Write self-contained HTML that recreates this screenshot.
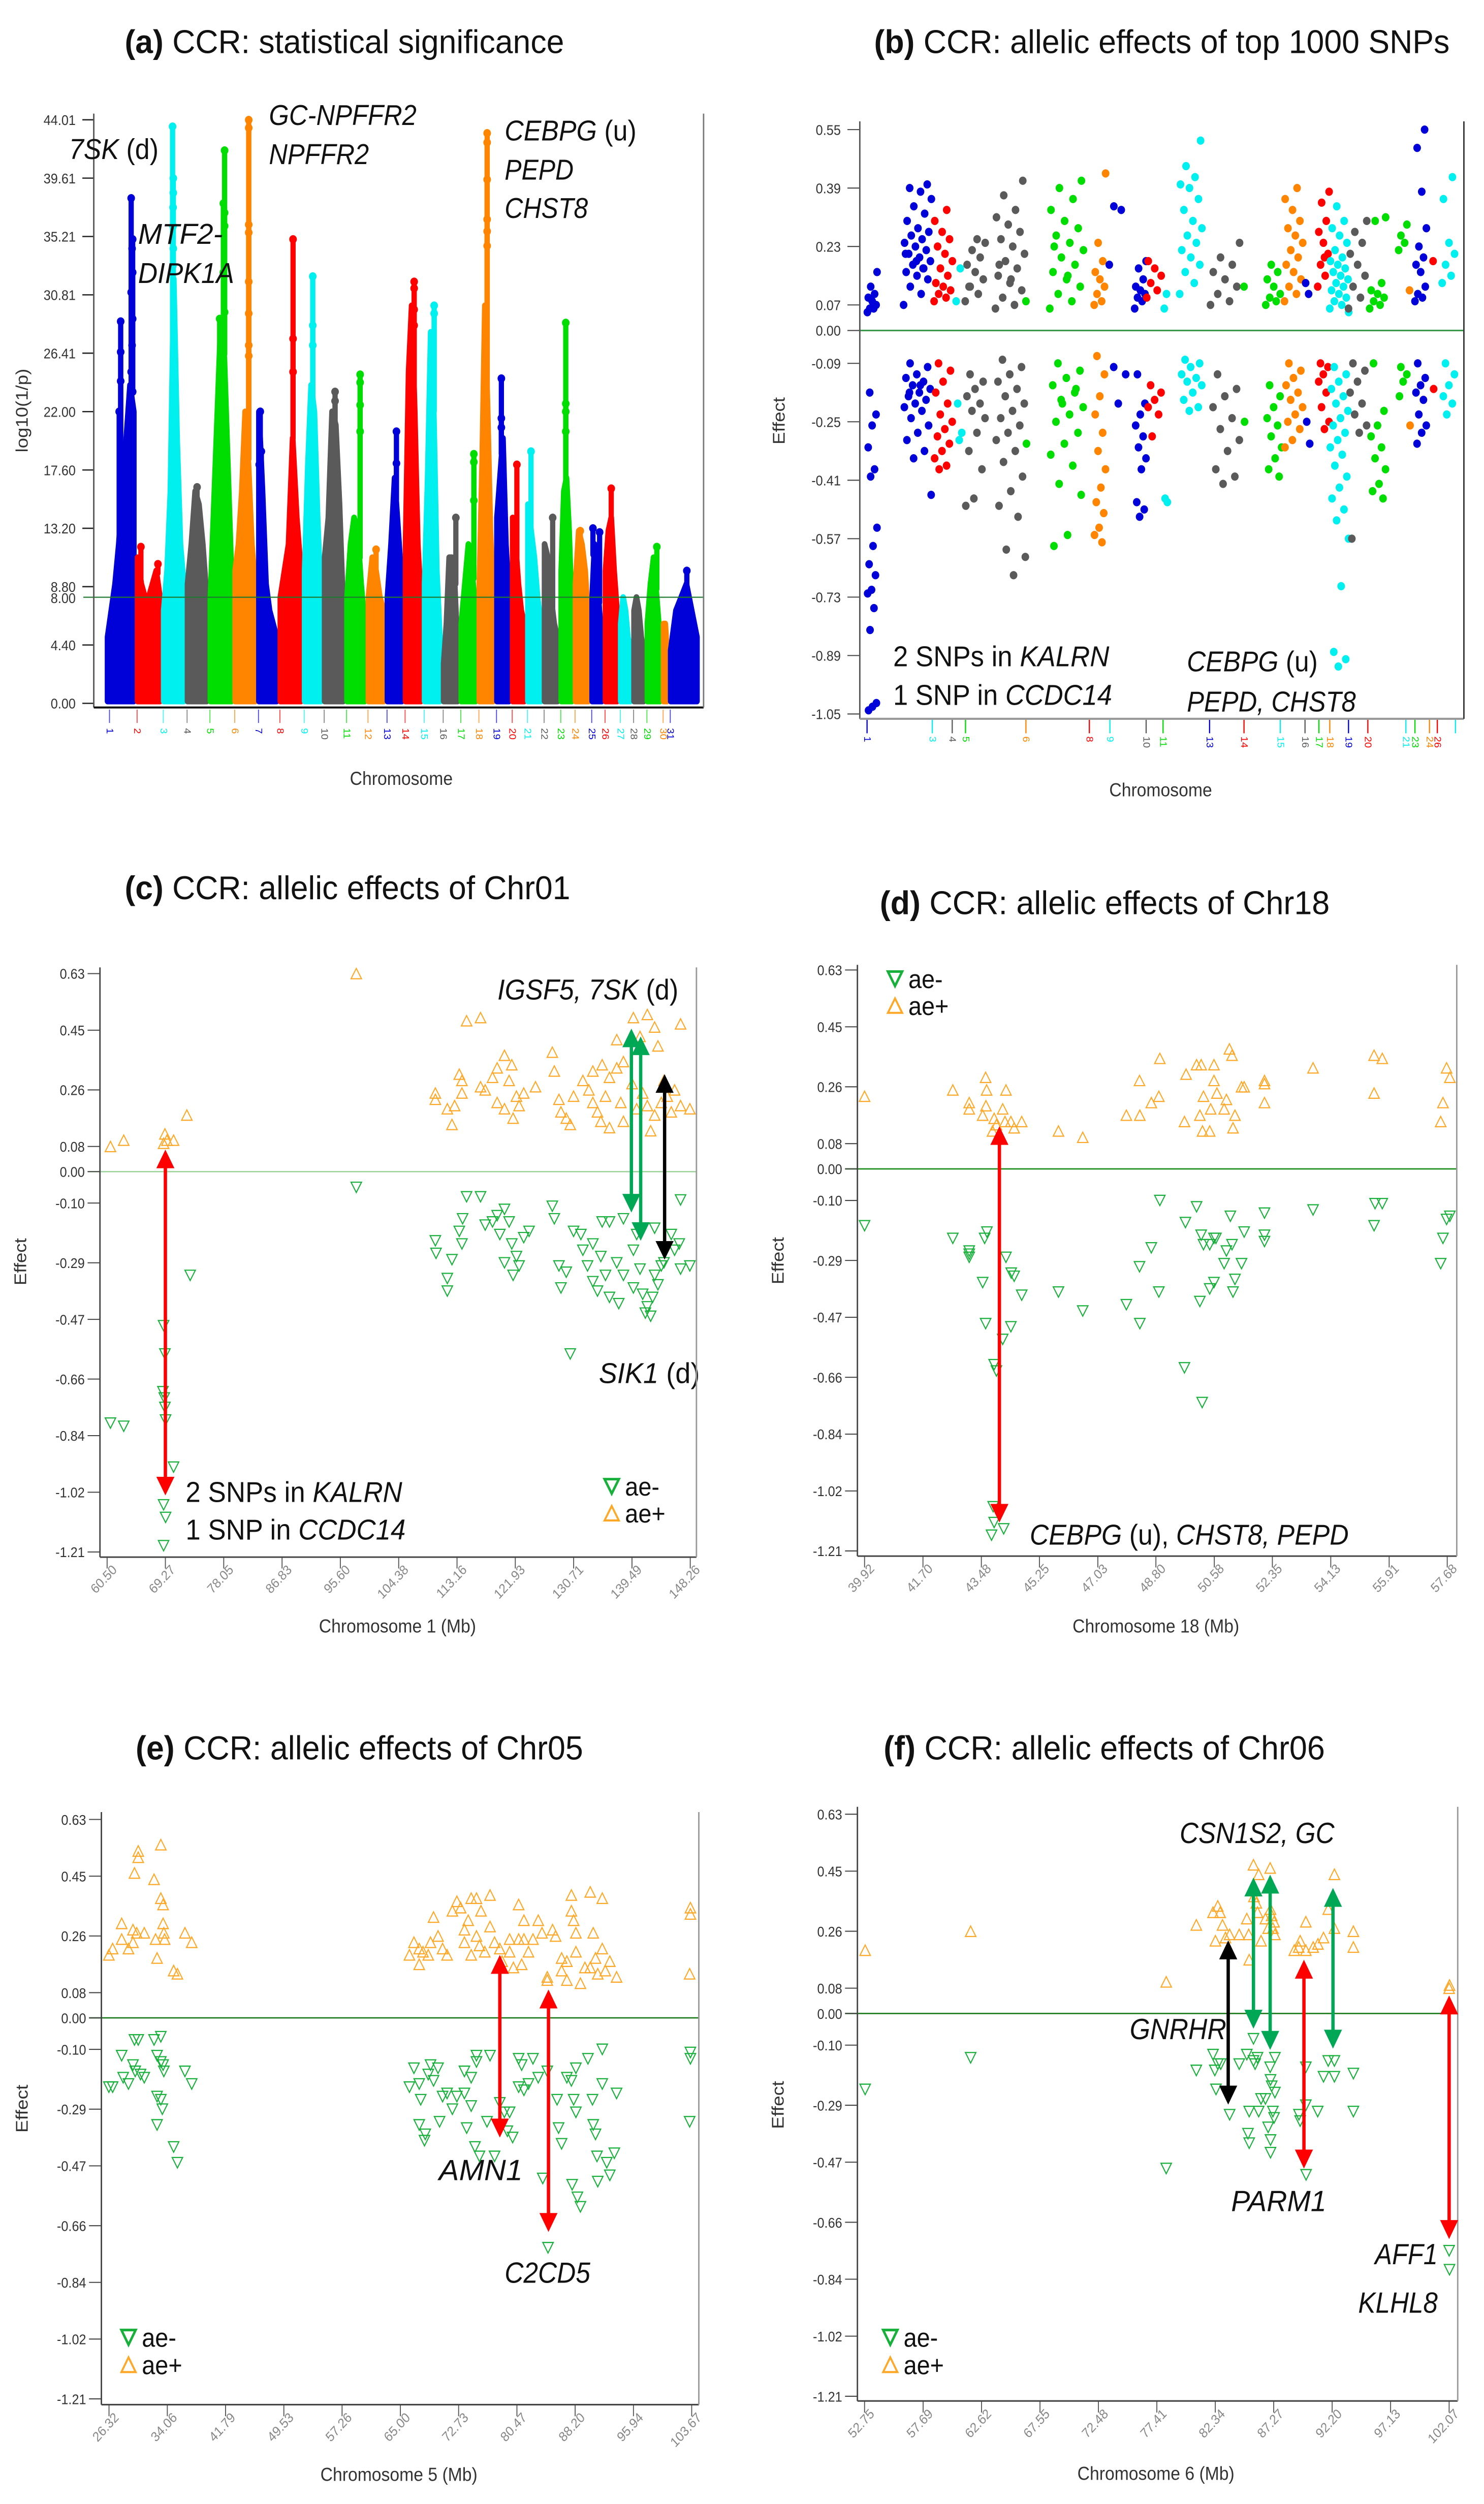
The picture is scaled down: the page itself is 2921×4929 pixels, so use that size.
<!DOCTYPE html>
<html><head><meta charset="utf-8"><title>CCR allelic effects</title>
<style>
html,body{margin:0;padding:0;background:#fff;}
svg{display:block;font-family:"Liberation Sans",sans-serif;}
.tk{font-size:27px;fill:#333;}
.ttl{font-size:64px;fill:#111;}
.ann{font-size:56px;fill:#111;}
.axt{font-size:36px;fill:#333;}
</style></head>
<body>
<svg id="fig" xmlns="http://www.w3.org/2000/svg" width="2921" height="4929" viewBox="0 0 2921 4929">
<rect x="0" y="0" width="2921" height="4929" fill="#fff"/>

<g id="pa" transform="translate(0,0) scale(0.937,1.0165)">
 <text class="ttl" x="262" y="103" textLength="923" lengthAdjust="spacingAndGlyphs"><tspan font-weight="bold">(a)</tspan> CCR: statistical significance</text>
 <g id="pa-marks"></g>
 <g id="pa-axes"></g>
 <text class="ann" x="145" y="308" textLength="188" lengthAdjust="spacingAndGlyphs"><tspan font-style="italic">7SK</tspan> (d)</text>
 <text class="ann" x="290" y="472" textLength="178" lengthAdjust="spacingAndGlyphs" font-style="italic">MTF2-</text>
 <text class="ann" x="290" y="548" textLength="202" lengthAdjust="spacingAndGlyphs" font-style="italic">DIPK1A</text>
 <text class="ann" x="565" y="242" textLength="310" lengthAdjust="spacingAndGlyphs" font-style="italic">GC-NPFFR2</text>
 <text class="ann" x="565" y="318" textLength="210" lengthAdjust="spacingAndGlyphs" font-style="italic">NPFFR2</text>
 <text class="ann" x="1060" y="272" textLength="277" lengthAdjust="spacingAndGlyphs"><tspan font-style="italic">CEBPG</tspan> (u)</text>
 <text class="ann" x="1060" y="348" textLength="145" lengthAdjust="spacingAndGlyphs" font-style="italic">PEPD</text>
 <text class="ann" x="1060" y="422" textLength="175" lengthAdjust="spacingAndGlyphs" font-style="italic">CHST8</text>
 <text class="axt" x="843" y="1520" text-anchor="middle">Chromosome</text>
 <text class="axt" transform="translate(58,795) rotate(-90)" text-anchor="middle">log10(1/p)</text>
</g>

<g id="pb" transform="translate(1460,0) scale(0.937,1.0165)">
 <text class="ttl" x="278" y="103" textLength="1209" lengthAdjust="spacingAndGlyphs"><tspan font-weight="bold">(b)</tspan> CCR: allelic effects of top 1000 SNPs</text>
 <g id="pb-axes"></g>
 <g id="pb-marks"></g>
 <text class="ann" x="318" y="1290" textLength="454" lengthAdjust="spacingAndGlyphs">2 SNPs in <tspan font-style="italic">KALRN</tspan></text>
 <text class="ann" x="318" y="1365" textLength="460" lengthAdjust="spacingAndGlyphs">1 SNP in <tspan font-style="italic">CCDC14</tspan></text>
 <text class="ann" x="935" y="1300" textLength="275" lengthAdjust="spacingAndGlyphs"><tspan font-style="italic">CEBPG</tspan> (u)</text>
 <text class="ann" x="935" y="1378" textLength="355" lengthAdjust="spacingAndGlyphs" font-style="italic">PEPD, CHST8</text>
 <text class="axt" x="880" y="1542" text-anchor="middle">Chromosome</text>
 <text class="axt" transform="translate(90,815) rotate(-90)" text-anchor="middle">Effect</text>
</g>

<g id="pc" transform="translate(0,1640) scale(0.937,1.0165)">
 <text class="ttl" x="262" y="128" textLength="936" lengthAdjust="spacingAndGlyphs"><tspan font-weight="bold">(c)</tspan> CCR: allelic effects of Chr01</text>
 <text class="ann" x="1045" y="322" textLength="380" lengthAdjust="spacingAndGlyphs"><tspan font-style="italic">IGSF5, 7SK</tspan> (d)</text>
 <text class="ann" x="1258" y="1065" textLength="212" lengthAdjust="spacingAndGlyphs"><tspan font-style="italic">SIK1</tspan> (d)</text>
 <text class="ann" x="390" y="1295" textLength="455" lengthAdjust="spacingAndGlyphs">2 SNPs in <tspan font-style="italic">KALRN</tspan></text>
 <text class="ann" x="390" y="1368" textLength="462" lengthAdjust="spacingAndGlyphs">1 SNP in <tspan font-style="italic">CCDC14</tspan></text>
 <text class="axt" x="835" y="1548" text-anchor="middle">Chromosome 1 (Mb)</text>
 <text class="axt" transform="translate(55,830) rotate(-90)" text-anchor="middle">Effect</text>
</g>

<g id="pd" transform="translate(1460,1640) scale(0.937,1.0165)">
 <text class="ttl" x="290" y="157" textLength="945" lengthAdjust="spacingAndGlyphs"><tspan font-weight="bold">(d)</tspan> CCR: allelic effects of Chr18</text>
 <text class="ann" x="605" y="1378" textLength="670" lengthAdjust="spacingAndGlyphs"><tspan font-style="italic">CEBPG</tspan> (u), <tspan font-style="italic">CHST8, PEPD</tspan></text>
 <text class="axt" x="870" y="1548" text-anchor="middle">Chromosome 18 (Mb)</text>
 <text class="axt" transform="translate(88,828) rotate(-90)" text-anchor="middle">Effect</text>
</g>

<g id="pe" transform="translate(0,3300) scale(0.937,1.035)">
 <text class="ttl" x="285" y="158" textLength="940" lengthAdjust="spacingAndGlyphs"><tspan font-weight="bold">(e)</tspan> CCR: allelic effects of Chr05</text>
 <text class="ann" x="922" y="958" textLength="176" lengthAdjust="spacingAndGlyphs" font-style="italic">AMN1</text>
 <text class="ann" x="1060" y="1153" textLength="180" lengthAdjust="spacingAndGlyphs" font-style="italic">C2CD5</text>
 <text class="axt" x="838" y="1530" text-anchor="middle">Chromosome 5 (Mb)</text>
 <text class="axt" transform="translate(58,822) rotate(-90)" text-anchor="middle">Effect</text>
</g>

<g id="pf" transform="translate(1460,3300) scale(0.937,1.035)">
 <text class="ttl" x="298" y="158" textLength="927" lengthAdjust="spacingAndGlyphs"><tspan font-weight="bold">(f)</tspan> CCR: allelic effects of Chr06</text>
 <text class="ann" x="920" y="317" textLength="325" lengthAdjust="spacingAndGlyphs" font-style="italic">CSN1S2, GC</text>
 <text class="ann" x="815" y="690" textLength="203" lengthAdjust="spacingAndGlyphs" font-style="italic">GNRHR</text>
 <text class="ann" x="1028" y="1017" textLength="200" lengthAdjust="spacingAndGlyphs" font-style="italic">PARM1</text>
 <text class="ann" x="1330" y="1118" textLength="132" lengthAdjust="spacingAndGlyphs" font-style="italic">AFF1</text>
 <text class="ann" x="1295" y="1210" textLength="167" lengthAdjust="spacingAndGlyphs" font-style="italic">KLHL8</text>
 <text class="axt" x="870" y="1528" text-anchor="middle">Chromosome 6 (Mb)</text>
 <text class="axt" transform="translate(88,815) rotate(-90)" text-anchor="middle">Effect</text>
</g>
</svg>

<script>
// ---------- shared palette ----------
var chromColors = ["#0000d8","#ff0000","#00f0f0","#5a5a5a","#00dd00","#ff8400"];

// ---------- panel (a) data ----------
var aYTicks = [44.01,39.61,35.21,30.81,26.41,22.00,17.60,13.20,8.80,4.40,0.00];
var aThreshold = 8.00;
var chromEdges = [0,6.3,11.8,16.8,21.6,26.8,31.8,36.3,41.4,45.6,50.3,54.8,58.8,62.6,66.6,70.6,74.3,78.1,81.8,85.1,88.3,91.8,95.3,98.3,101.8,104.6,107.8,110.6,113.4,116.8,118.3,124.6];
var chromEnv = [
 [5,7,9,12,16,20,24,22],[11,9,8,8,9,10,8],[7,10,16,32,20,12,9],[9,12,16,15,12,8],[8,15,22,29,26,18,10],
 [10,12,16,22,18,12,9],[22,16,9,7,6,5],[8,10,12,20,14,10],[10,18,24,22,14,8],[11,14,22,21,15,7],
 [8,12,14,13,9,6],[8,11,10,8,7],[8,12,17,13,9],[12,25,30,22,12,8],[9,17,28,22,10,5],
 [3,6,11,11,9,4],[6,9,12,10,7],[9,18,30,22,13,8],[14,17,20,12,8],[14,12,9,7,6],
 [15,13,11,8,6],[12,11,8,6,5],[10,16,17,13,7],[9,13,12,10,6],[8,12,10,7,5],
 [10,13,14,10,7],[6,8,7,5,4],[7,8,7,5,4],[6,9,11,8,5],[6,6,4],[4,7,8,9,7,5]];
var chromPeaks = [
 [[.85,38.1],[.9,35],[.88,34.3],[.9,32.5],[.5,28.8],[.5,26.5],[.5,24.3],[.45,22],[.5,19.5],[.85,31],[.9,29],[.88,27],[.85,25],[.9,23.5]],
 [[.2,11.8],[.85,10.5]],
 [[.45,43.5],[.48,39.6],[.48,38.5],[.47,37.4],[.47,36],[.48,34.3],[.46,33]],
 [[.5,16.3]],
 [[.65,41.7],[.6,37.7],[.65,37],[.65,36],[.6,32.5],[.45,29],[.65,29.5]],
 [[.65,44],[.65,43.4],[.65,36.1],[.65,35.5],[.65,31.8],[.65,29.4],[.65,27],[.65,26.2]],
 [[.15,22],[.2,19],[.1,18]],
 [[.6,35],[.6,27.5],[.6,25]],
 [[.5,32.2],[.5,28.5],[.5,27]],
 [[.55,23.5],[.55,22.8]],
 [[.7,24.8],[.7,24.2],[.7,22.5],[.7,20.5]],
 [[.5,11.6]],
 [[.6,20.5],[.6,18.1]],
 [[.55,31.8],[.55,31.3],[.55,29.7],[.55,28.5]],
 [[.6,30],[.6,29.4]],
 [[.8,14]],
 [[.8,18.8],[.8,18.2],[.8,15.3]],
 [[.55,43],[.55,42.3],[.55,39.5],[.55,36.5],[.55,35.6],[.55,34.5]],
 [[.4,24.5],[.4,21.5],[.4,20.8]],
 [[.4,18]],[[.3,19]],[[.6,14]],
 [[.45,28.7],[.45,22.6],[.45,22],[.45,20.5]],
 [[.4,13]],[[.2,13.2],[.7,12.9]],[[.5,16.2]],[],[],[[.7,11.8]],[],[[.6,10]]];

// ---------- panel (b) data ----------
var bYTicks = [0.55,0.39,0.23,0.07,0.00,-0.09,-0.25,-0.41,-0.57,-0.73,-0.89,-1.05];
var bClusterPos = [2.1,9.6,13.9,16.5,19.2,25.0,27.7,34.4,39.8,42.9,46.5,48.9,50.7,54.9,60.6,63.8,68.6,71.9,74.2,76.8,79.4,82.5,85.8,90.0,91.2,92.9,95.1,97.6];
var bClusterSpan = [1.7,4.7,3.2,1.1,3.5,5.1,0.4,5.9,2.0,3.2,2.0,2.8,0.6,3.9,5.1,0.4,2.8,3.2,0.8,2.0,3.2,3.2,2.8,1.6,0.4,2.0,0.4,2.4];
var bClusterChrom = [1,1,3,4,5,5,6,6,8,9,10,10,11,11,13,14,14,15,16,17,18,19,20,20,21,22,23,24];
var bColorIdx = [0,0,1,2,3,3,4,4,5,0,0,1,2,2,3,4,4,5,0,1,2,3,4,4,5,0,1,2];
var bUp = [
 [0.05,0.06,0.06,0.07,0.08,0.09,0.10,0.12,0.16],
 [0.07,0.10,0.12,0.14,0.15,0.16,0.17,0.18,0.19,0.20,0.21,0.22,0.23,0.24,0.25,0.26,0.27,0.28,0.30,0.32,0.34,0.36,0.38,0.39,0.40,0.19,0.21,0.17],
 [0.08,0.09,0.10,0.11,0.12,0.13,0.15,0.17,0.19,0.21,0.23,0.25,0.27,0.30,0.33],
 [0.08,0.17],
 [0.08,0.10,0.12,0.14,0.16,0.18,0.20,0.22,0.24,0.25,0.12],
 [0.06,0.07,0.09,0.11,0.13,0.15,0.17,0.19,0.21,0.23,0.25,0.27,0.29,0.31,0.33,0.37,0.41,0.14,0.18],
 [0.08],
 [0.06,0.08,0.10,0.12,0.14,0.16,0.18,0.20,0.22,0.24,0.26,0.28,0.30,0.33,0.36,0.39,0.41,0.15,0.23],
 [0.07,0.08,0.10,0.12,0.14,0.16,0.19,0.24,0.43],
 [0.18,0.33,0.34],
 [0.06,0.08,0.09,0.10,0.11,0.12,0.14,0.17,0.19],
 [0.09,0.11,0.13,0.15,0.17,0.19],
 [0.06,0.10],
 [0.10,0.13,0.16,0.18,0.20,0.22,0.24,0.26,0.28,0.30,0.33,0.36,0.39,0.40,0.42,0.45,0.52],
 [0.07,0.08,0.10,0.12,0.14,0.16,0.18,0.20,0.24],
 [0.12],
 [0.07,0.08,0.09,0.10,0.12,0.14,0.16,0.18],
 [0.08,0.10,0.12,0.14,0.16,0.18,0.20,0.22,0.24,0.26,0.28,0.30,0.33,0.36,0.39],
 [0.13,0.10],
 [0.12,0.15,0.18,0.21,0.24,0.27,0.30,0.35,0.38,0.20],
 [0.06,0.07,0.08,0.09,0.10,0.11,0.12,0.13,0.14,0.15,0.16,0.17,0.18,0.19,0.20,0.22,0.24,0.26,0.28,0.30,0.34,0.05],
 [0.06,0.09,0.12,0.15,0.18,0.21,0.24,0.27,0.30],
 [0.06,0.07,0.08,0.09,0.10,0.11,0.13,0.30,0.31],
 [0.22,0.24,0.26,0.29],
 [0.11],
 [0.08,0.09,0.10,0.12,0.16,0.18,0.20,0.23,0.28,0.38,0.50,0.55],
 [0.19],
 [0.13,0.15,0.18,0.21,0.24,0.36,0.42]];
var bDown = [
 [-0.17,-0.23,-0.26,-0.32,-0.38,-0.40,-0.54,-0.59,-0.64,-0.67,-0.71,-0.72,-0.76,-0.82,-1.02,-1.03,-1.04],
 [-0.09,-0.10,-0.12,-0.13,-0.14,-0.15,-0.16,-0.17,-0.18,-0.19,-0.20,-0.21,-0.22,-0.24,-0.26,-0.28,-0.30,-0.33,-0.35,-0.45,-0.15,-0.17],
 [-0.09,-0.11,-0.14,-0.17,-0.20,-0.23,-0.25,-0.27,-0.29,-0.31,-0.33,-0.35,-0.37,-0.38],
 [-0.20,-0.28,-0.30],
 [-0.12,-0.14,-0.16,-0.18,-0.20,-0.22,-0.24,-0.28,-0.33,-0.38,-0.46,-0.48],
 [-0.08,-0.10,-0.12,-0.14,-0.16,-0.18,-0.20,-0.22,-0.24,-0.26,-0.28,-0.30,-0.33,-0.36,-0.40,-0.44,-0.48,-0.51,-0.60,-0.62,-0.67],
 [-0.31],
 [-0.09,-0.11,-0.13,-0.15,-0.17,-0.19,-0.21,-0.23,-0.25,-0.28,-0.31,-0.34,-0.37,-0.42,-0.45,-0.56,-0.59,-0.16,-0.20],
 [-0.07,-0.12,-0.18,-0.23,-0.28,-0.33,-0.38,-0.43,-0.47,-0.50,-0.54,-0.56,-0.58],
 [-0.10,-0.12,-0.20],
 [-0.12,-0.20,-0.23,-0.26,-0.29,-0.32,-0.35,-0.38,-0.47,-0.49,-0.51],
 [-0.15,-0.17,-0.19,-0.21,-0.23,-0.29],
 [-0.46,-0.47],
 [-0.08,-0.09,-0.10,-0.12,-0.13,-0.14,-0.15,-0.17,-0.19,-0.21,-0.22],
 [-0.12,-0.16,-0.18,-0.21,-0.24,-0.27,-0.30,-0.33,-0.38,-0.40,-0.42],
 [-0.25],
 [-0.15,-0.18,-0.21,-0.24,-0.26,-0.29,-0.32,-0.35,-0.38,-0.40],
 [-0.09,-0.11,-0.13,-0.15,-0.17,-0.19,-0.21,-0.23,-0.25,-0.27,-0.30,-0.32],
 [-0.25,-0.31],
 [-0.09,-0.10,-0.12,-0.14,-0.17,-0.21,-0.25,-0.27],
 [-0.10,-0.12,-0.14,-0.16,-0.18,-0.20,-0.22,-0.24,-0.26,-0.28,-0.30,-0.32,-0.34,-0.37,-0.40,-0.43,-0.46,-0.49,-0.52,-0.57,-0.70,-0.88,-0.90,-0.92],
 [-0.09,-0.11,-0.14,-0.17,-0.20,-0.23,-0.26,-0.28,-0.57],
 [-0.09,-0.22,-0.26,-0.29,-0.32,-0.35,-0.38,-0.42,-0.44,-0.46],
 [-0.10,-0.12,-0.14,-0.18],
 [-0.26],
 [-0.09,-0.13,-0.15,-0.17,-0.19,-0.23,-0.26,-0.28,-0.31],
 [-0.16],
 [-0.09,-0.12,-0.15,-0.18,-0.20,-0.23]];
var bChromLabels = ["1","3","4","5","6","8","9","10","11","13","14","15","16","17","18","19","20","21","23","24","26",""];
var bChromTickPos = [1.2,12.0,15.3,17.5,27.5,38.0,41.4,47.4,50.2,57.9,63.6,69.6,73.7,76.0,77.8,80.9,84.1,90.4,91.9,94.3,95.6,98.6];
var bChromTickNum = [1,3,4,5,6,8,9,10,11,13,14,15,16,17,18,19,20,21,23,24,26,27];

// ---------- panels (c)-(f) shared ticks ----------
var effTicks = [0.63,0.45,0.26,0.08,0.00,-0.10,-0.29,-0.47,-0.66,-0.84,-1.02,-1.21];

// ---------- panel (c) data ----------
var cXTicks = [60.50,69.27,78.05,86.83,95.60,104.38,113.16,121.93,130.71,139.49,148.26];
var cPlusMb = [61,63,69,69.2,69.5,70.5,72.5,98,109.9,109.9,111.7,112.4,112.8,113.5,113.9,113.9,114.6,116.7,116.7,117.4,118.5,119.2,119.2,120.3,120.3,121.0,121.4,121.6,122.1,122.5,123.2,124.97,127.5,127.8,128.5,128.8,129.6,130.2,130.7,132.1,133.0,133.6,133.6,134.3,134.8,135.0,135.5,136.1,136.1,137.2,137.2,137.8,138.2,138.2,139.7,139.5,140.2,140.7,141.1,141.8,141.8,142.3,142.9,142.9,143.4,143.9,144.3,144.8,145.4,145.9,146.8,146.8,148.2];
var cPlusEff = [0.08,0.10,0.09,0.12,0.10,0.10,0.18,0.63,0.25,0.23,0.20,0.15,0.21,0.31,0.29,0.25,0.48,0.49,0.27,0.26,0.30,0.33,0.22,0.37,0.20,0.29,0.34,0.17,0.24,0.21,0.25,0.27,0.38,0.32,0.23,0.19,0.17,0.15,0.24,0.29,0.26,0.32,0.22,0.19,0.16,0.34,0.24,0.30,0.14,0.42,0.33,0.22,0.35,0.16,0.49,0.28,0.20,0.43,0.25,0.50,0.21,0.13,0.46,0.18,0.40,0.22,0.29,0.24,0.19,0.26,0.47,0.21,0.20];
var cMinusMb = [61,63,73,69,69.2,68.9,69.2,69.1,69.3,70.5,69,69.3,69,98,109.9,110.0,111.7,111.7,112.4,113.5,113.9,114.0,114.6,116.7,117.4,118.5,119.2,119.6,120.3,120.3,121.0,121.4,121.6,122.1,122.5,123.2,124.0,127.5,127.8,128.5,128.8,129.6,130.2,130.7,131.8,132.1,132.8,133.6,133.6,134.3,134.8,135.0,135.5,136.1,136.1,137.2,137.5,138.2,138.2,139.7,139.7,140.2,140.7,141.1,141.5,141.8,142.3,142.6,142.9,142.9,143.4,143.9,144.3,145.4,145.9,146.6,146.8,146.8,148.2];
var cMinusEff = [-0.80,-0.81,-0.33,-0.49,-0.58,-0.70,-0.75,-0.72,-0.79,-0.94,-1.06,-1.10,-1.19,-0.05,-0.22,-0.26,-0.34,-0.38,-0.28,-0.19,-0.23,-0.15,-0.08,-0.08,-0.17,-0.16,-0.14,-0.20,-0.12,-0.29,-0.16,-0.23,-0.33,-0.27,-0.30,-0.21,-0.19,-0.11,-0.15,-0.30,-0.37,-0.32,-0.58,-0.19,-0.20,-0.25,-0.30,-0.35,-0.23,-0.38,-0.27,-0.16,-0.33,-0.40,-0.16,-0.29,-0.42,-0.15,-0.33,-0.25,-0.37,-0.20,-0.31,-0.39,-0.45,-0.43,-0.46,-0.40,-0.18,-0.33,-0.36,-0.30,-0.29,-0.20,-0.25,-0.23,-0.09,-0.31,-0.30];
var cArrowX = [69.27,139.4,140.8,144.4];
var cArrowFrom = [0.07,0.455,0.43,0.31];
var cArrowTo = [-1.03,-0.13,-0.22,-0.28];
var cArrowColor = ["#ff0000","#00a856","#00a856","#000000"];

// ---------- panel (d) data ----------
var dXTicks = [39.92,41.70,43.48,45.25,47.03,48.80,50.58,52.35,54.13,55.91,57.68];
var dPlusMb = [39.92,42.61,43.11,43.11,43.52,43.61,43.64,43.62,43.87,43.82,43.94,44.13,44.23,44.20,44.38,44.48,44.71,45.83,46.57,47.90,48.31,48.30,48.66,48.92,48.89,49.67,49.72,50.04,50.18,50.14,50.22,50.25,50.44,50.47,50.57,50.57,50.66,50.88,50.95,51.04,51.12,51.15,51.21,51.41,51.49,52.11,52.11,52.11,53.59,55.45,55.70,55.45,57.66,57.76,57.55,57.48];
var dPlusEff = [0.23,0.25,0.21,0.19,0.17,0.29,0.25,0.20,0.16,0.12,0.14,0.19,0.25,0.15,0.15,0.13,0.15,0.12,0.10,0.17,0.17,0.28,0.21,0.35,0.23,0.15,0.30,0.33,0.33,0.17,0.12,0.23,0.12,0.19,0.28,0.33,0.24,0.19,0.22,0.38,0.36,0.13,0.17,0.26,0.26,0.28,0.27,0.21,0.32,0.36,0.35,0.24,0.32,0.29,0.21,0.15];
var dMinusMb = [39.92,42.61,43.11,43.11,43.11,43.58,43.65,43.52,43.61,44.23,44.39,44.48,44.71,44.38,44.13,43.87,43.94,43.84,43.87,44.16,43.79,45.83,46.57,47.90,48.31,48.30,48.66,48.92,48.89,49.70,50.04,50.18,50.25,50.44,50.57,50.63,50.57,50.44,50.14,50.88,50.95,51.07,51.12,51.21,51.15,51.41,51.49,52.11,52.11,52.11,53.59,55.45,55.48,55.70,57.66,57.76,57.55,57.48,49.67,50.21];
var dMinusEff = [-0.18,-0.22,-0.26,-0.28,-0.27,-0.22,-0.20,-0.36,-0.49,-0.28,-0.33,-0.34,-0.40,-0.50,-0.54,-0.62,-0.64,-1.07,-1.12,-1.14,-1.16,-0.39,-0.45,-0.43,-0.49,-0.31,-0.25,-0.10,-0.39,-0.17,-0.12,-0.21,-0.24,-0.24,-0.22,-0.22,-0.36,-0.38,-0.42,-0.30,-0.26,-0.15,-0.24,-0.35,-0.39,-0.30,-0.20,-0.14,-0.21,-0.23,-0.13,-0.18,-0.11,-0.11,-0.16,-0.15,-0.22,-0.30,-0.63,-0.74];
var dArrowX = [44.03];
var dArrowFrom = [0.135];
var dArrowTo = [-1.12];
var dArrowColor = ["#ff0000"];

// ---------- panel (e) data ----------
var eXTicks = [26.32,34.06,41.79,49.53,57.26,65.00,72.73,80.47,88.20,95.94,103.67];
var ePlusMb = [26.3,26.8,28.0,28.0,28.9,29.5,29.5,29.7,30.2,30.2,30.0,31.0,32.3,32.5,32.7,33.2,33.5,33.5,33.6,33.7,33.2,34.9,35.4,36.4,37.3,66.2,66.8,67.5,67.5,68.0,68.7,69.0,69.4,70.0,70.6,71.2,71.9,72.5,73.0,73.5,73.5,74.0,74.4,74.4,75.1,75.1,75.5,75.7,76.2,76.9,76.9,77.5,78.2,78.5,79.5,79.5,80.0,80.7,80.7,81.1,81.4,81.4,82.0,82.6,83.3,83.8,84.5,84.5,85.2,85.6,86.4,86.4,87.1,87.1,87.7,87.7,88.0,88.3,88.3,88.9,89.5,90.2,90.2,90.6,90.9,91.2,91.8,91.8,92.2,92.8,93.7,103.5,103.5,103.4];
var ePlusEff = [0.20,0.22,0.30,0.25,0.22,0.28,0.24,0.46,0.51,0.53,0.27,0.27,0.44,0.25,0.19,0.38,0.36,0.30,0.27,0.25,0.55,0.15,0.14,0.27,0.24,0.20,0.24,0.22,0.17,0.21,0.20,0.24,0.32,0.26,0.22,0.20,0.34,0.37,0.35,0.28,0.24,0.31,0.38,0.20,0.38,0.26,0.23,0.34,0.21,0.39,0.29,0.24,0.22,0.18,0.25,0.21,0.16,0.36,0.25,0.17,0.31,0.25,0.21,0.25,0.31,0.27,0.13,0.12,0.28,0.26,0.19,0.15,0.18,0.12,0.39,0.34,0.31,0.27,0.21,0.11,0.16,0.40,0.16,0.27,0.19,0.14,0.38,0.22,0.15,0.18,0.13,0.35,0.33,0.14];
var eMinusMb = [26.3,26.8,28.0,28.2,28.9,29.5,29.7,30.2,29.8,30.5,31.0,32.3,33.2,32.7,33.2,33.5,33.6,32.7,33.2,33.4,32.7,34.9,35.4,36.4,37.3,66.2,66.8,67.5,67.7,67.5,68.2,68.3,68.7,69.0,69.4,70.0,70.2,70.6,71.2,71.9,72.5,73.5,73.5,73.8,74.4,74.4,74.9,75.1,75.1,75.5,76.5,76.9,77.5,78.2,78.8,79.2,79.5,79.9,80.7,80.7,81.1,81.4,82.0,82.6,83.3,83.9,84.5,84.6,85.8,86.0,86.4,87.1,87.7,87.8,88.0,88.3,88.3,88.5,88.9,89.9,90.5,90.6,90.9,91.1,91.2,91.8,91.8,92.4,92.8,93.7,93.4,103.5,103.5,103.4];
var eMinusEff = [-0.22,-0.22,-0.12,-0.19,-0.21,-0.15,-0.07,-0.07,-0.17,-0.18,-0.19,-0.07,-0.06,-0.12,-0.14,-0.15,-0.17,-0.25,-0.26,-0.29,-0.34,-0.41,-0.46,-0.17,-0.21,-0.22,-0.16,-0.21,-0.26,-0.34,-0.39,-0.37,-0.18,-0.15,-0.20,-0.16,-0.33,-0.25,-0.24,-0.29,-0.25,-0.17,-0.24,-0.35,-0.19,-0.28,-0.41,-0.12,-0.14,-0.44,-0.33,-0.12,-0.44,-0.27,-0.30,-0.36,-0.30,-0.38,-0.13,-0.22,-0.15,-0.23,-0.21,-0.13,-0.19,-0.51,-0.17,-0.73,-0.26,-0.35,-0.40,-0.19,-0.20,-0.53,-0.26,-0.16,-0.30,-0.57,-0.60,-0.13,-0.26,-0.34,-0.37,-0.44,-0.52,-0.10,-0.21,-0.46,-0.50,-0.24,-0.43,-0.11,-0.13,-0.33];
var eArrowX = [78.2,84.66];
var eArrowFrom = [0.20,0.09];
var eArrowTo = [-0.38,-0.68];
var eArrowColor = ["#ff0000","#ff0000"];

// ---------- panel (f) data ----------
var fXTicks = [52.75,57.69,62.62,67.55,72.48,77.41,82.34,87.27,92.20,97.13,102.07];
var fPlusMb = [52.8,61.7,78.2,80.74,82.15,82.35,82.55,82.75,82.95,83.2,83.55,84.36,85.0,85.16,85.2,85.56,85.6,85.8,85.9,86.0,86.2,86.57,86.8,86.97,87.0,87.1,87.2,87.37,87.3,89.0,89.38,89.5,89.98,89.98,90.6,91.0,91.47,91.87,92.39,92.39,93.99,93.99,102.07,102.1];
var fPlusEff = [0.20,0.26,0.10,0.28,0.32,0.23,0.34,0.32,0.28,0.24,0.25,0.25,0.30,0.25,0.17,0.47,0.37,0.35,0.32,0.44,0.23,0.30,0.27,0.46,0.33,0.31,0.27,0.25,0.29,0.20,0.21,0.23,0.29,0.20,0.21,0.22,0.24,0.33,0.44,0.27,0.26,0.21,0.08,0.09];
var fMinusMb = [52.8,61.7,78.2,80.74,82.15,82.3,82.4,82.55,82.8,83.55,84.36,85.0,85.2,85.1,85.2,85.56,85.56,85.7,85.9,86.0,86.2,86.57,86.8,86.97,87.0,87.1,87.2,87.3,87.0,87.0,87.37,87.37,89.4,89.5,89.98,89.98,90.0,90.98,91.47,91.87,92.39,92.39,93.99,93.99,102.07,102.1];
var fMinusEff = [-0.24,-0.14,-0.49,-0.18,-0.13,-0.18,-0.24,-0.16,-0.16,-0.32,-0.16,-0.13,-0.31,-0.38,-0.41,-0.15,-0.08,-0.16,-0.14,-0.31,-0.27,-0.27,-0.36,-0.17,-0.21,-0.23,-0.31,-0.33,-0.40,-0.44,-0.14,-0.25,-0.32,-0.34,-0.17,-0.29,-0.51,-0.31,-0.20,-0.15,-0.15,-0.20,-0.19,-0.31,-0.75,-0.81];
var fArrowX = [83.43,85.56,86.97,89.82,92.27,102.07];
var fArrowFrom = [0.231,0.43,0.439,0.17,0.397,0.057];
var fArrowTo = [-0.288,-0.048,-0.115,-0.49,-0.111,-0.713];
var fArrowColor = ["#000000","#00a856","#00a856","#ff0000","#00a856","#ff0000"];

// ---------- helpers ----------
var NS = "http://www.w3.org/2000/svg";
function mk(tag, attrs, parent) {
  var e = document.createElementNS(NS, tag);
  for (var k in attrs) e.setAttribute(k, attrs[k]);
  parent.appendChild(e);
  return e;
}
function lin(d0, d1, r0, r1) { return function (v) { return r0 + (v - d0) * (r1 - r0) / (d1 - d0); }; }
function envAt(env, f) {
  if (env.length === 1) return env[0];
  var p = f * (env.length - 1), i = Math.min(env.length - 2, Math.floor(p)), t = p - i;
  return env[i] * (1 - t) + env[i + 1] * t;
}

// ---------- panel (a) ----------
(function () {
  var g = document.getElementById("pa-marks");
  var ax = document.getElementById("pa-axes");
  var L = 197, R = 1478, T = 220, B = 1370;
  var y = lin(0, 44.01, 1362, 232);
  var x = lin(0, 124.6, 222, 1468);
  for (var c = 0; c < chromEnv.length; c++) {
    var x0 = x(chromEdges[c]), x1 = x(chromEdges[c + 1]);
    var env = chromEnv[c], col = chromColors[c % 6];
    var pts = [(x0 + 4) + "," + (y(0) - 4)];
    for (var i = 0; i < env.length; i++) {
      var xx = x0 + 4 + (x1 - x0 - 8) * (env.length === 1 ? 0.5 : i / (env.length - 1));
      pts.push(xx + "," + y(env[i]));
    }
    pts.push((x1 - 4) + "," + (y(0) - 4));
    var poly = mk("polygon", { points: pts.join(" "), fill: col, stroke: col, "stroke-width": 12, "stroke-linejoin": "round" }, g);
    
    
    var pk = chromPeaks[c];
    for (var j = 0; j < pk.length; j++) {
      var cx = x0 + (x1 - x0) * pk[j][0];
      var cy = y(pk[j][1]);
      var base = y(envAt(env, pk[j][0]));
      if (base > cy) {
        var ln = mk("line", { x1: cx, y1: base, x2: cx, y2: cy, stroke: col, "stroke-width": 11, "stroke-linecap": "round" }, g);
        
        
      }
      var dot = mk("circle", { cx: cx, cy: cy, r: 8, fill: col }, g);
      
      
    }
    var tx = x0 + (c === 0 ? 8 : 3);
    var tk = mk("line", { x1: tx, y1: B + 4, x2: tx, y2: B + 30, stroke: col, "stroke-width": 2, opacity: 0.7 }, ax);
    
    
    var tl = mk("text", { x: 0, y: 0, transform: "translate(" + (tx - 6) + "," + (B + 40) + ") rotate(90)", "font-size": 20, fill: col }, ax);
    tl.textContent = String(c + 1);
    
    
  }
  var thr = mk("line", { x1: L - 22, y1: y(aThreshold), x2: R, y2: y(aThreshold), stroke: "#1f7a2f", "stroke-width": 2.5, opacity: 0.85 }, ax);
  
  
  var thl = mk("text", { x: L - 38, y: y(aThreshold) + 11, "text-anchor": "end", class: "tk", fill: "#3a9a3a" }, ax);
  thl.textContent = aThreshold.toFixed(2);
  
  
  for (var t = 0; t < aYTicks.length; t++) {
    var ty = y(aYTicks[t]);
    var ytl = mk("line", { x1: L - 24, y1: ty, x2: L, y2: ty, stroke: "#222", "stroke-width": 2.5 }, ax);
    
    
    var ylb = mk("text", { x: L - 38, y: ty + 10, "text-anchor": "end", class: "tk" }, ax);
    ylb.textContent = aYTicks[t].toFixed(2);
    
    
  }
  var la = mk("line", { x1: L, y1: T, x2: L, y2: B, stroke: "#555", "stroke-width": 3 }, ax);
  
  
  var ba = mk("line", { x1: L, y1: B, x2: R, y2: B, stroke: "#111", "stroke-width": 4 }, ax);
  
  
  var ra = mk("line", { x1: R, y1: T, x2: R, y2: B, stroke: "#777", "stroke-width": 3 }, ax);
  
  
})();

// ---------- panel (b) ----------
(function () {
  var g = document.getElementById("pb-marks");
  var ax = document.getElementById("pb-axes");
  var L = 248, R = 1517, T = 235, B = 1392;
  var y = lin(0, 0.55, 640, 251);
  var x = lin(0, 100, 248, 1517);
  var zl = mk("line", { x1: L, y1: y(0), x2: R, y2: y(0), stroke: "#3c9a4c", "stroke-width": 3 }, ax);
  
  
  for (var t = 0; t < bYTicks.length; t++) {
    var ty = y(bYTicks[t]);
    var ytl = mk("line", { x1: L - 26, y1: ty, x2: L, y2: ty, stroke: "#444", "stroke-width": 2 }, ax);
    
    
    var ylb = mk("text", { x: L - 40, y: ty + 10, "text-anchor": "end", class: "tk", fill: bYTicks[t] === 0 ? "#3a9a3a" : "#333" }, ax);
    ylb.textContent = bYTicks[t].toFixed(2);
    
    
  }
  for (var k = 0; k < bChromTickPos.length; k++) {
    var tx = x(bChromTickPos[k]);
    var col = chromColors[(bChromTickNum[k] - 1) % 6];
    var tk = mk("line", { x1: tx, y1: B, x2: tx, y2: B + 28, stroke: col, "stroke-width": 2.5 }, ax);
    
    
    var tl = mk("text", { x: 0, y: 0, transform: "translate(" + (tx - 6) + "," + (B + 34) + ") rotate(90)", "font-size": 20, fill: col }, ax);
    tl.textContent = bChromLabels[k];
    
    
  }
  for (var c = 0; c < bClusterPos.length; c++) {
    var col2 = chromColors[bColorIdx[c]];
    var sets = [bUp[c], bDown[c]];
    for (var s = 0; s < 2; s++) {
      var vals = sets[s];
      for (var i = 0; i < vals.length; i++) {
        var jit = (((i + s * 0.37) * 0.618) % 1) - 0.5;
        var cx = x(bClusterPos[c] + bClusterSpan[c] * jit);
        var dot = mk("circle", { cx: cx, cy: y(vals[i]), r: 8, fill: col2 }, g);
        
        
      }
    }
  }
  var la = mk("line", { x1: L, y1: T, x2: L, y2: B, stroke: "#555", "stroke-width": 3 }, ax);
  
  
  var ba = mk("line", { x1: L, y1: B, x2: R, y2: B, stroke: "#999", "stroke-width": 4 }, ax);
  
  
  var ra = mk("line", { x1: R, y1: T, x2: R, y2: B, stroke: "#333", "stroke-width": 3 }, ax);
  
  
})();

// ---------- panels (c)-(f) ----------
function effectPanel(id, geo, xTicks, plusMb, plusEff, minusMb, minusEff, arX, arFrom, arTo, arCol, legend, zeroColor) {
  var p = document.getElementById(id);
  var ax = mk("g", {}, p);
  
  
  var g = mk("g", {}, p);
  
  
  var L = geo.L, R = geo.R, T = geo.T, B = geo.B;
  var y = lin(0.63, -1.21, geo.yTop, geo.yBot);
  var x = lin(xTicks[0], xTicks[xTicks.length - 1], geo.x0, geo.x1);
  var zl = mk("line", { x1: L - 26, y1: y(0), x2: R, y2: y(0), stroke: zeroColor, "stroke-width": 2.5 }, ax);
  
  
  for (var t = 0; t < effTicks.length; t++) {
    var ty = y(effTicks[t]);
    var ytl = mk("line", { x1: L - 26, y1: ty, x2: L, y2: ty, stroke: "#444", "stroke-width": 2 }, ax);
    
    
    var ylb = mk("text", { x: L - 32, y: ty + 10, "text-anchor": "end", class: "tk", fill: effTicks[t] === 0 ? "#3a9a3a" : "#333" }, ax);
    ylb.textContent = effTicks[t].toFixed(2);
    
    
  }
  for (var k = 0; k < xTicks.length; k++) {
    var tx = x(xTicks[k]);
    var xtl = mk("line", { x1: tx, y1: B, x2: tx, y2: B + 22, stroke: "#555", "stroke-width": 2 }, ax);
    
    
    var xlb = mk("text", { x: 0, y: 0, transform: "translate(" + (tx + 22) + "," + (B + 26) + ") rotate(-45)", "text-anchor": "end", "font-size": 26, fill: "#888" }, ax);
    xlb.textContent = xTicks[k].toFixed(2);
    
    
  }
  var la = mk("line", { x1: L, y1: T, x2: L, y2: B, stroke: "#444", "stroke-width": 3 }, ax);
  
  
  var ba = mk("line", { x1: L, y1: B, x2: R, y2: B, stroke: "#444", "stroke-width": 3 }, ax);
  
  
  var ra = mk("line", { x1: R, y1: T, x2: R, y2: B, stroke: "#999", "stroke-width": 3 }, ax);
  
  
  var h = 10, w = 11;
  for (var i = 0; i < plusMb.length; i++) {
    var px = x(plusMb[i]), py = y(plusEff[i]);
    var tri = mk("polygon", { points: px + "," + (py - h) + " " + (px - w) + "," + (py + h) + " " + (px + w) + "," + (py + h), fill: "none", stroke: "#ffa726", "stroke-width": 2.2 }, g);
    
    
  }
  for (var j = 0; j < minusMb.length; j++) {
    var qx = x(minusMb[j]), qy = y(minusEff[j]);
    var tri2 = mk("polygon", { points: qx + "," + (qy + h) + " " + (qx - w) + "," + (qy - h) + " " + (qx + w) + "," + (qy - h), fill: "none", stroke: "#17b03a", "stroke-width": 2.2 }, g);
    
    
  }
  for (var a = 0; a < arX.length; a++) {
    var axx = x(arX[a]), y1 = y(arFrom[a]), y2 = y(arTo[a]);
    var hl = 36, hw = 19;
    var ag = mk("g", {}, g);
    
    
    mk("line", { x1: axx, y1: y1 + hl - 2, x2: axx, y2: y2 - hl + 2, stroke: arCol[a], "stroke-width": 7 }, ag);
    mk("polygon", { points: axx + "," + y1 + " " + (axx - hw) + "," + (y1 + hl) + " " + (axx + hw) + "," + (y1 + hl), fill: arCol[a] }, ag);
    mk("polygon", { points: axx + "," + y2 + " " + (axx - hw) + "," + (y2 - hl) + " " + (axx + hw) + "," + (y2 - hl), fill: arCol[a] }, ag);
  }
  var lg = mk("g", {}, p);
  
  
  var lx = legend.x, ly = legend.y;
  var t1 = mk("polygon", { points: lx + "," + (ly + 14) + " " + (lx - 15) + "," + (ly - 14) + " " + (lx + 15) + "," + (ly - 14), fill: "none", stroke: "#17b03a", "stroke-width": 5 }, lg);
  
  
  var l1 = mk("text", { x: lx + 28, y: ly + 18, "font-size": 50, fill: "#111" }, lg);
  l1.textContent = "ae-";
  
  
  var t2 = mk("polygon", { points: lx + "," + (ly + 38) + " " + (lx - 15) + "," + (ly + 66) + " " + (lx + 15) + "," + (ly + 66), fill: "none", stroke: "#ffa726", "stroke-width": 4 }, lg);
  
  
  var l2 = mk("text", { x: lx + 28, y: ly + 70, "font-size": 50, fill: "#111" }, lg);
  l2.textContent = "ae+";
  
  
}

effectPanel("pc", { L: 210, R: 1463, T: 260, B: 1402, yTop: 272, yBot: 1392, x0: 225, x1: 1450 },
  cXTicks, cPlusMb, cPlusEff, cMinusMb, cMinusEff, cArrowX, cArrowFrom, cArrowTo, cArrowColor, { x: 1285, y: 1265 }, "#9fd49f");
effectPanel("pd", { L: 243, R: 1502, T: 255, B: 1400, yTop: 265, yBot: 1390, x0: 258, x1: 1482 },
  dXTicks, dPlusMb, dPlusEff, dMinusMb, dMinusEff, dArrowX, dArrowFrom, dArrowTo, dArrowColor, { x: 322, y: 282 }, "#1a8a1a");
effectPanel("pe", { L: 213, R: 1468, T: 258, B: 1385, yTop: 272, yBot: 1374, x0: 229, x1: 1453 },
  eXTicks, ePlusMb, ePlusEff, eMinusMb, eMinusEff, eArrowX, eArrowFrom, eArrowTo, eArrowColor, { x: 270, y: 1257 }, "#1a7a1a");
effectPanel("pf", { L: 243, R: 1504, T: 248, B: 1378, yTop: 262, yBot: 1369, x0: 258, x1: 1486 },
  fXTicks, fPlusMb, fPlusEff, fMinusMb, fMinusEff, fArrowX, fArrowFrom, fArrowTo, fArrowColor, { x: 312, y: 1257 }, "#1a7a1a");
</script>
</body></html>
